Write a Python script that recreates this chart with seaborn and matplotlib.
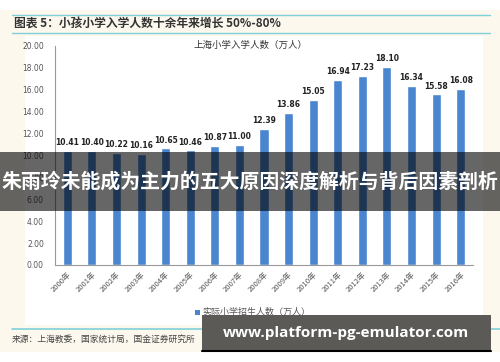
import pandas as pd
import seaborn as sns
import matplotlib.pyplot as plt
from matplotlib.patches import Rectangle
from matplotlib.lines import Line2D

years = ["2000年", "2001年", "2002年", "2003年", "2004年", "2005年", "2006年", "2007年", "2008年",
         "2009年", "2010年", "2011年", "2012年", "2013年", "2014年", "2015年", "2016年"]
students = [10.41, 10.40, 10.22, 10.16, 10.65, 10.46, 10.87, 11.00, 12.39,
            13.86, 15.05, 16.94, 17.23, 18.10, 16.34, 15.58, 16.08]
yticks = [0, 2, 4, 6, 8, 10, 12, 14, 16, 18, 20]

W, H = 500, 362
BAR = "#4a86d0"
TEAL = "#7fd0d8"

sns.set_theme(style="white")
plt.rcParams["font.family"] = ["Noto Sans CJK SC", "DejaVu Sans"]


def fx(x):
    return x / W


def fy(y):
    return 1 - y / H


fig = plt.figure(figsize=(W / 100, H / 100), dpi=100, facecolor="white")

# cream page + white chart panel
fig.add_artist(Rectangle((0, fy(352)), 1, fy(10) - fy(352), transform=fig.transFigure,
                         facecolor="#fcf8ee", edgecolor="none", zorder=0))
fig.add_artist(Rectangle((fx(25), fy(325)), fx(458), fy(36) - fy(325), transform=fig.transFigure,
                         facecolor="white", edgecolor="none", zorder=0))

ax = fig.add_axes([fx(55), fy(265), fx(473 - 55), fy(46) - fy(265)])
ax.set_facecolor("none")
df = pd.DataFrame({"year": years, "value": students})
sns.barplot(data=df, x="year", y="value", color=BAR, width=0.37, saturation=1, ax=ax)

for i, v in enumerate(students):
    ax.text(i, v + 0.35, f"{v:.2f}", ha="center", va="bottom", fontsize=5.5,
            fontweight="bold", color="#222222", family="DejaVu Sans")

ax.set_ylim(0, 20)
ax.set_xlim(-0.5, 16.5)
ax.set_yticks(yticks)
ax.set_yticklabels([f"{t:.2f}" for t in yticks], fontsize=5.5, color="#555555", family="DejaVu Sans")
ax.set_xticks(range(len(years)))
ax.set_xticklabels(years, rotation=45, ha="right", rotation_mode="anchor", fontsize=5.5, color="#555555")
ax.tick_params(axis="both", length=0, pad=8)
ax.tick_params(axis="x", pad=4)
ax.set_xlabel("")
ax.set_ylabel("")
sns.despine(ax=ax, top=True, right=True)
for s in ["left", "bottom"]:
    ax.spines[s].set_color("#999999")
    ax.spines[s].set_linewidth(0.8)

fig.text(fx(250), fy(45), "上海小学入学人数（万人）", ha="center", va="center", fontsize=6.8, color="#333333")

# header
for y in (15, 33):
    fig.add_artist(Line2D([fx(12), fx(490)], [fy(y), fy(y)], transform=fig.transFigure, color=TEAL, lw=1))
fig.text(fx(14), fy(24), "图表 5：小孩小学入学人数十余年来增长 50%-80%", ha="left", va="center",
         fontsize=8.5, fontweight="bold", style="italic", color="#333333")

# legend
fig.add_artist(Rectangle((fx(195), fy(315)), fx(5), fy(310) - fy(315), transform=fig.transFigure,
                         facecolor=BAR, edgecolor="none"))
fig.text(fx(202), fy(312), "实际小学招生人数（万人）", ha="left", va="center", fontsize=6.5, color="#555555")

# footer
fig.add_artist(Line2D([fx(12), fx(500)], [fy(329), fy(329)], transform=fig.transFigure, color=TEAL, lw=1.2))
fig.text(fx(12), fy(339), "来源：上海教委，国家统计局，国金证券研究所", ha="left", va="center",
         fontsize=6.3, color="#444444")

# overlay banner
fig.add_artist(Rectangle((0, fy(211)), 1, fy(152) - fy(211), transform=fig.transFigure,
                         facecolor="black", alpha=0.6, edgecolor="none", zorder=5))
fig.text(0.5, fy(181), "朱雨玲未能成为主力的五大原因深度解析与背后因素剖析", ha="center", va="center",
         fontsize=14.3, fontweight="bold", color="white", zorder=6)

# url box
fig.add_artist(Rectangle((fx(202), fy(352)), fx(289), fy(315) - fy(352), transform=fig.transFigure,
                         facecolor="#5b5a57", edgecolor="none", zorder=5))
fig.add_artist(Line2D([fx(202), fx(491)], [fy(351), fy(351)], transform=fig.transFigure,
                      color="black", lw=1.5, zorder=6))
fig.text(fx(346), fy(333), "www.platform-pg-emulator.com", ha="center", va="center",
         fontsize=11, fontweight="bold", color="white", family="Open Sans", zorder=6)

fig.savefig("out.png", dpi=100)
